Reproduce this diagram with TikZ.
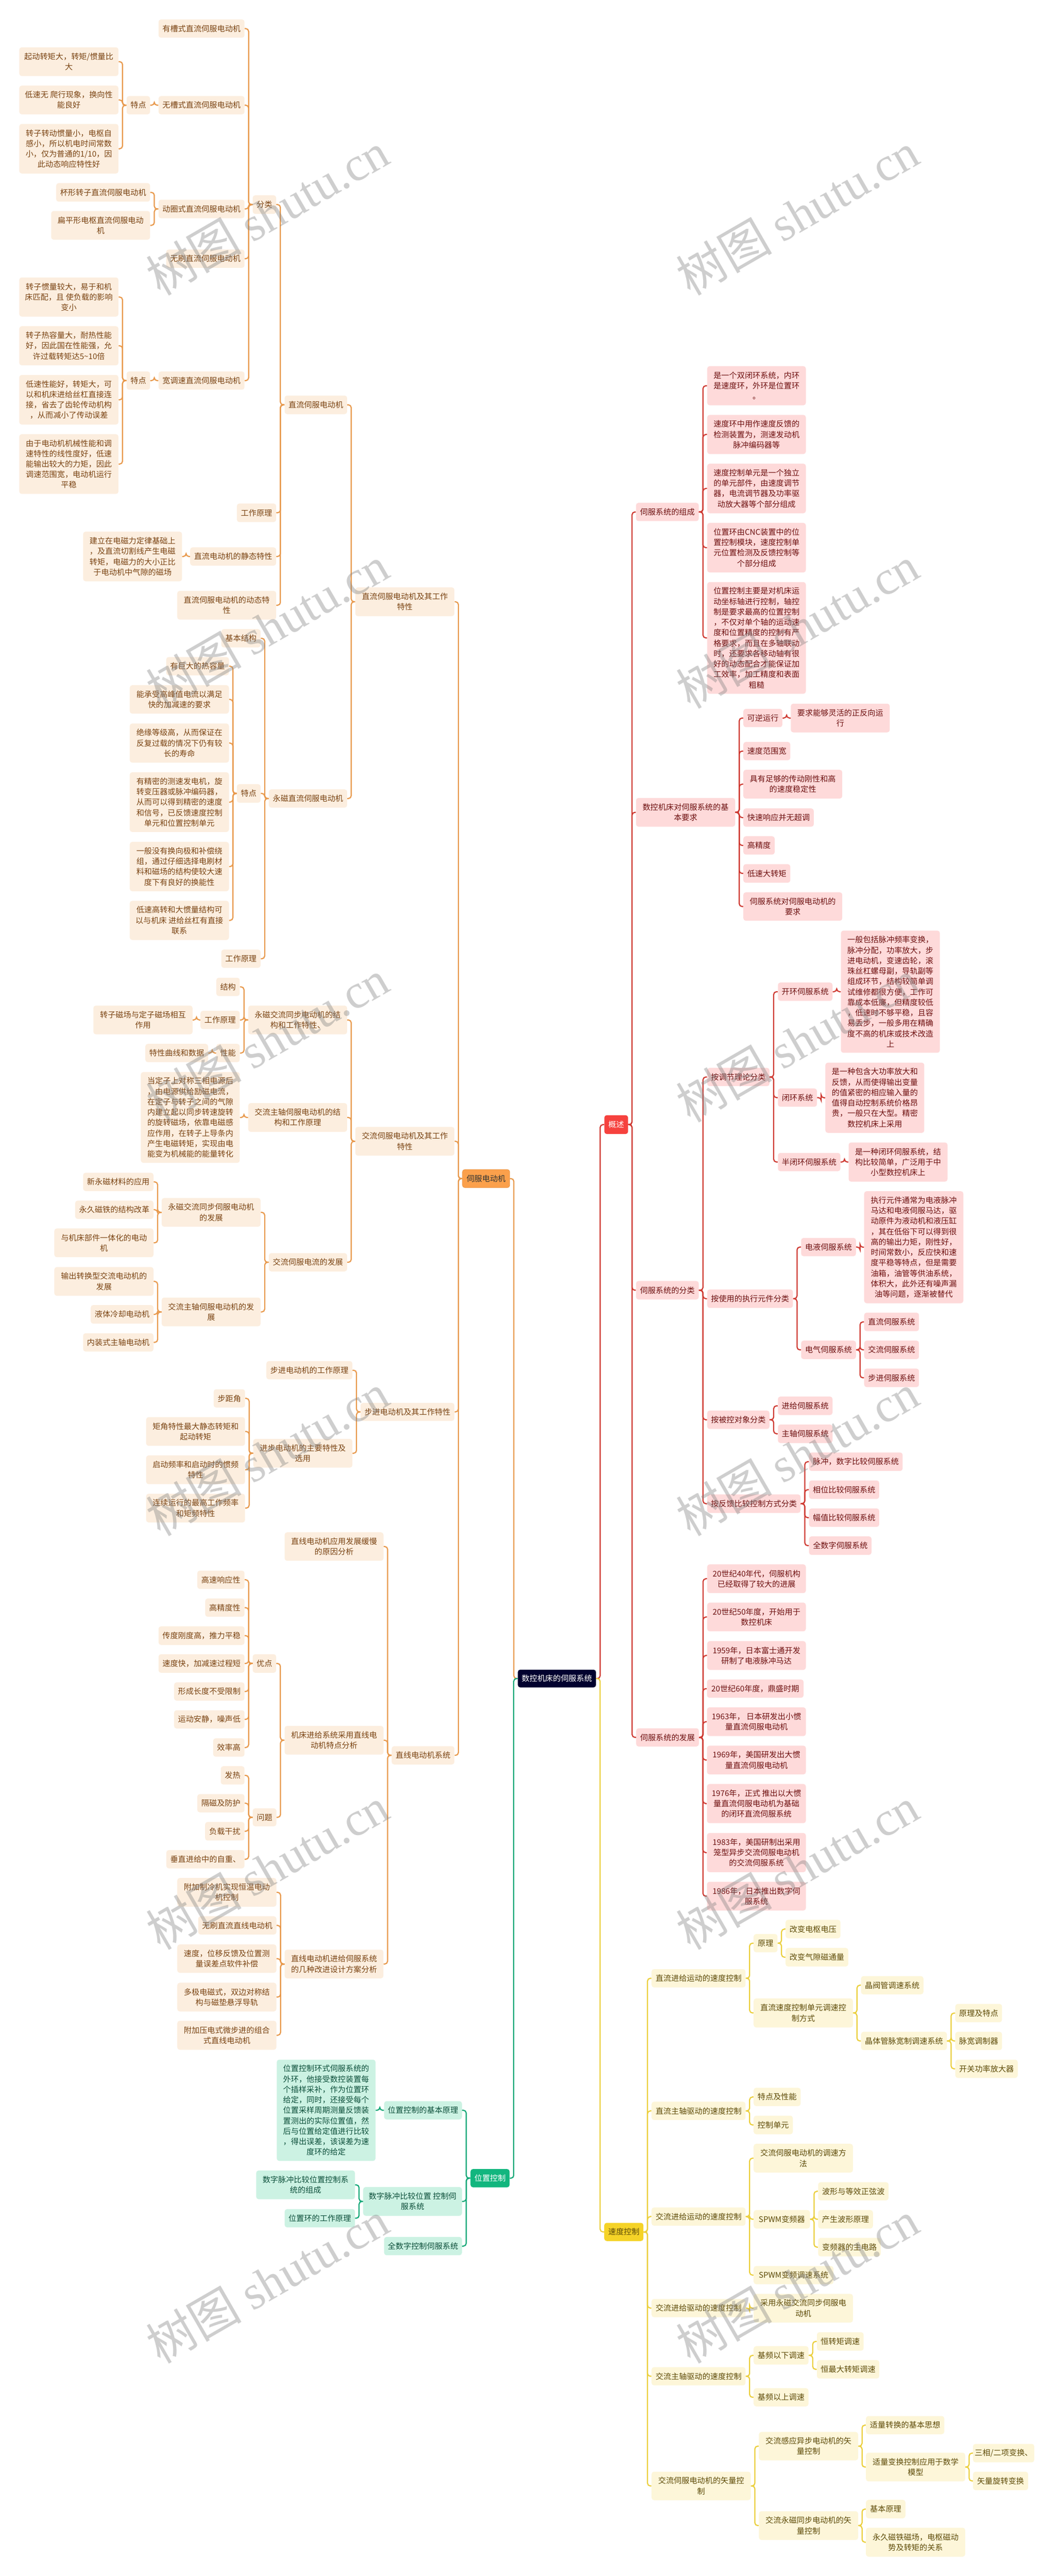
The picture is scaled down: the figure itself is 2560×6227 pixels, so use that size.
\documentclass[tikz,border=0pt]{standalone}
\usepackage{fontspec}
\setmainfont{Noto Sans CJK SC}
\newfontfamily\wmlatin{Liberation Serif}
\usetikzlibrary{calc}
\definecolor{oF}{HTML}{FCEEDF}\definecolor{oT}{HTML}{7A4312}\definecolor{oW}{HTML}{E8994C}\definecolor{oL}{HTML}{FBA04B}
\definecolor{rF}{HTML}{FEDADA}\definecolor{rT}{HTML}{6E1010}\definecolor{rW}{HTML}{CF3A32}\definecolor{rL}{HTML}{F6423E}
\definecolor{yF}{HTML}{FDF6D9}\definecolor{yT}{HTML}{5E4B08}\definecolor{yW}{HTML}{EBCF3C}\definecolor{yL}{HTML}{F5D327}
\definecolor{gF}{HTML}{CCF2E3}\definecolor{gT}{HTML}{0C4F3A}\definecolor{gW}{HTML}{12A877}\definecolor{gL}{HTML}{12B67E}
\definecolor{nv}{HTML}{02022F}
\tikzset{
 boxbase/.style={rectangle,rounded corners=3pt,inner sep=0pt,align=center,font=\fontsize{9.45}{12.6}\selectfont},
 wirebase/.style={line width=1.4pt,rounded corners=3.4pt},
 obox/.style={boxbase,fill=oF,text=oT}, rbox/.style={boxbase,fill=rF,text=rT},
 ybox/.style={boxbase,fill=yF,text=yT}, gbox/.style={boxbase,fill=gF,text=gT},
 lead/.style={boxbase,text=white},
 wm/.style={text=gray,opacity=.38,rotate=30,font=\fontsize{58}{58}\selectfont}
}
\newcommand\zset[4]{\gdef\zx{#1}\gdef\zy{#2}\gdef\zsx{#3}\gdef\zsy{#4}}
\newcommand\nd[6]{%
 \pgfmathsetmacro\nx{\zx+(#2+#4)/2/\zsx}%
 \pgfmathsetmacro\ny{\zy+(#3+#5)/2/\zsy}%
 \pgfmathsetmacro\nw{(#4-(#2))/\zsx*0.5}%
 \pgfmathsetmacro\nh{(#5-(#3))/\zsy*0.5}%
 \node[box,minimum width=\nw pt,minimum height=\nh pt] (#1) at (\nx,\ny) {#6};}
\newcommand\connL[2]{\foreach \cc in {#2}{\draw[wire] let \p1=(\cc.east),\p2=(#1.west),\n1={0.5*(\x1+\x2)} in (\p1) -- (\n1,\y1) -- (\n1,\y2) -- (\p2);}}
\newcommand\connR[2]{\foreach \cc in {#2}{\draw[wire] let \p1=(#1.east),\p2=(\cc.west),\n1={0.5*(\x1+\x2)} in (\p1) -- (\n1,\y1) -- (\n1,\y2) -- (\p2);}}
\begin{document}
\begin{tikzpicture}[x=0.5pt,y=-0.5pt]
\fill[white] (0,0) rectangle (2560,6227);
\useasboundingbox (0,0) rectangle (2560,6227);

% ---------- orange tree
\begin{scope}[box/.style={obox},wire/.style={wirebase,draw=oW}]
\zset{0}{0}{1.568}{1.4255}
\nd{a1}{601}{67}{927}{130}{有槽式直流伺服电动机}
\nd{a2}{601}{331}{927}{394}{无槽式直流伺服电动机}
\nd{a2t}{480}{331}{569}{394}{特点}
\nd{a2a}{73}{163}{449}{262}{起动转矩大，转矩/惯量比\\大}
\nd{a2b}{73}{295}{449}{394}{低速无 爬行现象，换向性\\能良好}
\nd{a2c}{73}{427}{449}{598}{转子转动惯量小，电枢自\\感小，所以机电时间常数\\小，仅为普通的1/10，因\\此动态响应特性好}
\nd{a3}{601}{688}{927}{752}{动圈式直流伺服电动机}
\nd{a3a}{213}{631}{569}{695}{杯形转子直流伺服电动机}
\nd{a3b}{194}{727}{569}{826}{扁平形电枢直流伺服电动\\机}
\nd{fenlei}{958}{673}{1047}{737}{分类}
\nd{a4}{630}{860}{927}{923}{无刷直流伺服电动机}
\nd{a5}{601}{1280}{927}{1343}{宽调速直流伺服电动机}
\nd{a5t}{480}{1280}{569}{1343}{特点}
\nd{a5a}{73}{956}{449}{1091}{转子惯量较大，易于和机\\床匹配，且 使负载的影响\\变小}
\nd{a5b}{73}{1124}{449}{1259}{转子热容量大，耐热性能\\好，因此国在性能强，允\\许过载转矩达5\textasciitilde10倍}
\nd{a5c}{73}{1292}{449}{1463}{低速性能好，转矩大，可\\以和机床进给丝杠直接连\\接，省去了齿轮传动机构\\，从而减小了传动误差}
\nd{dcm}{1079}{1363}{1316}{1427}{直流伺服电动机}
\zset{0}{1100}{1.568}{1.4255}
\nd{a5d}{73}{-72}{449}{134}{由于电动机机械性能和调\\速特性的线性度好，低速\\能输出较大的力矩，因此\\调速范围宽，电动机运行\\平稳}
\nd{dcw}{898}{167}{1047}{231}{工作原理}
\nd{dcj}{721}{318}{1047}{381}{直流电动机的静态特性}
\nd{dcja}{315}{264}{690}{435}{建立在电磁力定律基础上\\，及直流切割线产生电磁\\转矩，电磁力的大小正比\\于电动机中气隙的磁场}
\nd{dcd}{672}{468}{1047}{567}{直流伺服电动机的动态特\\性}
\nd{dcs}{1347}{456}{1722.7}{555}{直流伺服电动机及其工作\\特性}
\nd{pmj}{839}{600}{988}{663}{基本结构}
\nd{pma}{630}{696}{868}{759}{有巨大的热容量}
\nd{pmb}{492}{793}{868}{891}{能承受高峰值电流以满足\\快的加减速的要求}
\nd{pmc}{492}{925}{868}{1060}{绝缘等级高，从而保证在\\反复过载的情况下仍有较\\长的寿命}
\nd{pmd}{492}{1093}{868}{1299}{有精密的测速发电机，旋\\转变压器或脉冲编码器，\\从而可以得到精密的速度\\和信号，已反馈速度控制\\单元和位置控制单元}
\nd{pme}{492}{1333}{868}{1503}{一般没有换向极和补偿绕\\组，通过仔细选择电刷材\\料和磁场的结构使较大速\\度下有良好的换能性}
\nd{pmf}{492}{1536}{868}{1671}{低速高转和大惯量结构可\\以与机床 进给丝杠有直接\\联系}
\nd{pmt}{898}{1134}{988}{1198}{特点}
\nd{pmdc}{1019}{1152}{1316}{1215}{永磁直流伺服电动机}
\zset{0}{2200}{1.568}{1.4255}
\nd{pmw}{839}{136}{988}{199}{工作原理}
\nd{ac1a}{820}{233}{909}{296}{结构}
\nd{ac1b}{760}{347}{909}{410}{工作原理}
\nd{ac1bx}{354}{329}{730}{428}{转子磁场与定子磁场相互\\作用}
\nd{ac1c}{820}{461}{909}{524}{性能}
\nd{ac1cx}{551}{461}{789}{524}{特性曲线和数据}
\nd{ac1}{941}{329}{1316}{428}{永磁交流同步电动机的结\\构和工作特性、}
\nd{ac2x}{534}{558}{909}{871}{当定子上对称三相电源后\\，由电源供给励磁电流，\\在定子与转子之间的气隙\\内建立起以同步转速旋转\\的旋转磁场，依靠电磁感\\应作用，在转子上导条内\\产生电磁转矩，实现由电\\能变为机械能的能量转化}
\nd{ac2}{941}{665}{1316}{764}{交流主轴伺服电动机的结\\构和工作原理}
\nd{acs}{1347}{747}{1722.7}{846}{交流伺服电动机及其工作\\特性}
\nd{dv1a}{315}{905}{582}{968}{新永磁材料的应用}
\nd{dv1b}{285}{1001}{582}{1064}{永久磁铁的结构改革}
\nd{dv1c}{206}{1097}{582}{1196}{与机床部件一体化的电动\\机}
\nd{dv1}{613}{992}{988}{1091}{永磁交流同步伺服电动机\\的发展}
\nd{ac3}{1019}{1182}{1316}{1245}{交流伺服电流的发展}
\nd{dv2a}{206}{1230}{582}{1329}{输出转换型交流电动机的\\发展}
\nd{dv2b}{344}{1361}{582}{1425}{液体冷却电动机}
\nd{dv2c}{315}{1458}{582}{1521}{内装式主轴电动机}
\nd{dv2}{613}{1335}{988}{1434}{交流主轴伺服电动机的发\\展}
\zset{0}{3300}{1.568}{1.4255}
\nd{st1}{1010}{-14}{1336}{49}{步进电动机的工作原理}
\nd{sts}{1367}{130}{1722.7}{192}{步进电动机及其工作特性}
\nd{st2}{960}{254}{1336}{353}{进步电动机的主要特性及\\选用}
\nd{st2a}{810}{83}{929}{146}{步距角}
\nd{st2b}{554}{179}{929}{278}{矩角特性最大静态转矩和\\起动转矩}
\nd{st2c}{554}{311}{929}{410}{启动频率和启动时的惯频\\特性}
\nd{st2d}{554}{443}{929}{542}{连续运行的最高工作频率\\和矩频特性}
\nd{li1}{1079}{576}{1454}{674}{直线电动机应用发展缓慢\\的原因分析}
\nd{ua}{748}{708}{927}{771}{高速响应性}
\nd{ub}{778}{804}{927}{867}{高精度性}
\nd{uc}{601}{900}{927}{964}{传度刚度高，推力平稳}
\nd{ud}{601}{996}{927}{1060}{速度快，加减速过程短}
\nd{ue}{660}{1093}{927}{1156}{形成长度不受限制}
\nd{uf}{660}{1189}{927}{1252}{运动安静，噪声低}
\nd{ug}{808}{1286}{927}{1349}{效率高}
\nd{youd}{958}{996}{1047}{1060}{优点}
\nd{li2}{1079}{1243}{1454}{1342}{机床进给系统采用直线电\\动机特点分析}
\nd{lis}{1485}{1313}{1722.7}{1376}{直线电动机系统}
\nd{qa}{837}{1382}{927}{1445}{发热}
\nd{qb}{748}{1478}{927}{1541}{隔磁及防护}
\zset{0}{4400}{1.206}{1.4255}
\nd{wenti}{737}{-41}{806}{21}{问题}
\nd{qc}{598}{6}{713}{70}{负载干扰}
\nd{qd}{485}{103}{713}{166}{垂直进给中的自重、}
\nd{li3a}{517}{199}{806}{298}{附加制冷机实现恒温电动\\机控制}
\nd{li3b}{578}{331}{806}{394}{无刷直流直线电动机}
\nd{li3c}{517}{428}{806}{526}{速度，位移反馈及位置测\\量误差点软件补偿}
\nd{li3d}{517}{560}{806}{659}{多极电磁式，双边对称结\\构与磁垫悬浮导轨}
\nd{li3e}{517}{691}{806}{791}{附加压电式微步进的组合\\式直线电动机}
\nd{li3}{830}{446}{1118}{545}{直线电动机进给伺服系统\\的几种改进设计方案分析}
\zset{0}{0}{1}{1}
\begin{scope}[box/.style={lead,fill=oL,draw=oW,line width=.5pt,text=black!80}]
\nd{serv}{1118}{2827}{1232.6}{2871}{伺服电动机}
\end{scope}
\connL{a2t}{a2a,a2b,a2c}
\connL{a2}{a2t}
\connL{a3}{a3a,a3b}
\connL{a5t}{a5a,a5b,a5c,a5d}
\connL{a5}{a5t}
\connL{fenlei}{a1,a2,a3,a4,a5}
\connL{dcm}{fenlei,dcw,dcj,dcd}
\connL{dcj}{dcja}
\connL{pmt}{pma,pmb,pmc,pmd,pme,pmf}
\connL{pmdc}{pmj,pmt,pmw}
\connL{dcs}{dcm,pmdc}
\connL{ac1b}{ac1bx}
\connL{ac1c}{ac1cx}
\connL{ac1}{ac1a,ac1b,ac1c}
\connL{ac2}{ac2x}
\connL{dv1}{dv1a,dv1b,dv1c}
\connL{dv2}{dv2a,dv2b,dv2c}
\connL{ac3}{dv1,dv2}
\connL{acs}{ac1,ac2,ac3}
\connL{st2}{st2a,st2b,st2c,st2d}
\connL{sts}{st1,st2}
\connL{youd}{ua,ub,uc,ud,ue,uf,ug}
\connL{wenti}{qa,qb,qc,qd}
\connL{li2}{youd,wenti}
\connL{li3}{li3a,li3b,li3c,li3d,li3e}
\connL{lis}{li1,li2,li3}
\connL{serv}{dcs,sts,acs,lis}
\end{scope}

% ---------- green tree
\begin{scope}[box/.style={gbox},wire/.style={wirebase,draw=gW}]
\zset{0}{4400}{1.206}{1.4255}
\nd{po1x}{807}{825}{1095}{1174}{位置控制环式伺服系统的\\外环，他接受数控装置每\\个插样采补，作为位置环\\给定，同时，还接受每个\\位置采样周期测量反馈装\\置测出的实际位置值，然\\后与位置给定值进行比较\\，得出误差，该误差为速\\度环的给定}
\nd{po1}{1120}{968}{1347}{1031}{位置控制的基本原理}
\nd{po2a}{747}{1207}{1035}{1306}{数字脉冲比较位置控制系\\统的组成}
\nd{po2b}{830}{1340}{1035}{1403}{位置环的工作原理}
\nd{po2}{1059}{1264}{1347}{1363}{数字脉冲比较位置 控制伺\\服系统}
\nd{po3}{1120}{1436}{1347}{1499}{全数字控制伺服系统}
\begin{scope}[box/.style={lead,fill=gL}]
\nd{posc}{1372}{1202}{1486}{1265}{位置控制}
\end{scope}
\connL{po1}{po1x}
\connL{po2}{po2a,po2b}
\connL{posc}{po1,po2,po3}
\end{scope}

% ---------- red tree
\begin{scope}[box/.style={rbox},wire/.style={wirebase,draw=rW}]
\zset{1400}{850}{1.568}{1.4255}
\nd{c1}{216}{521}{454}{584}{伺服系统的组成}
\nd{c1a}{486}{50}{860}{185}{是一个双闭环系统，内环\\是速度环，外环是位置环\\。}
\nd{c1b}{486}{218}{860}{353}{速度环中用作速度反馈的\\检测装置为，测速发动机\\脉冲编码器等}
\nd{c1c}{486}{386}{860}{557}{速度控制单元是一个独立\\的单元部件，由速度调节\\器，电流调节器及功率驱\\动放大器等个部分组成}
\nd{c1d}{486}{590}{860}{761}{位置环由CNC装置中的位\\置控制模块，速度控制单\\元位置检测及反馈控制等\\个部分组成}
\nd{c1e}{486}{794}{860}{1179}{位置控制主要是对机床运\\动坐标轴进行控制，轴控\\制是要求最高的位置控制\\，不仅对单个轴的运动速\\度和位置精度的控制有严\\格要求，而且在多轴联动\\时，还要求各移动轴有很\\好的动态配合才能保证加\\工效率，加工精度和表面\\粗糙}
\nd{c2a}{623}{1231}{771}{1294}{可逆运行}
\nd{c2ax}{803}{1213}{1178}{1312}{要求能够灵活的正反向运\\行}
\nd{c2b}{623}{1345}{801}{1408}{速度范围宽}
\nd{c2c}{623}{1441}{998}{1540}{具有足够的传动刚性和高\\的速度稳定性}
\nd{c2}{216}{1538}{592}{1637}{数控机床对伺服系统的基\\本要求}
\zset{1400}{1950}{1.568}{1.4255}
\nd{c2d}{623}{6}{890}{69}{快速响应并无超调}
\nd{c2e}{623}{102}{742}{165}{高精度}
\nd{c2f}{623}{198}{801}{262}{低速大转矩}
\nd{c2g}{623}{295}{998}{393}{伺服系统对伺服电动机的\\要求}
\nd{k1a}{754}{606}{961}{669}{开环伺服系统}
\nd{k1ax}{993}{427}{1368}{848}{一般包括脉冲频率变换，\\脉冲分配，功率放大，步\\进电动机，变速齿轮，滚\\珠丝杠螺母副，导轨副等\\组成环节，结构较简单调\\试维修都很方便，工作可\\靠成本低廉，但精度较低\\，低速时不够平稳，且容\\易丢步，一般多用在精确\\度不高的机床或技术改造\\上}
\nd{k1b}{754}{971}{902}{1034}{闭环系统}
\nd{k1bx}{934}{882}{1309}{1124}{是一种包含大功率放大和\\反馈，从而使得输出变量\\的值紧密的相应输入量的\\值得自动控制系统价格昂\\贵，一般只在大型。精密\\数控机床上采用}
\nd{k1c}{754}{1193}{991}{1256}{半闭环伺服系统}
\nd{k1cx}{1022}{1157}{1397}{1292}{是一种闭环伺服系统，结\\构比较简单，广泛用于中\\小型数控机床上}
\nd{k1}{486}{900}{722}{963}{按调节理论分类}
\nd{k2a}{842}{1486}{1050}{1549}{电液伺服系统}
\nd{k2ax}{1081}{1325}{1457}{1711}{执行元件通常为电液脉冲\\马达和电液伺服马达，驱\\动原件为液动机和液压缸\\，其在低俗下可以得到很\\高的输出力矩，刚性好，\\时间常数小，反应快和速\\度平稳等特点，但是需要\\油箱，油管等供油系统，\\体积大，此外还有噪声漏\\油等问题，逐渐被替代}
\begin{scope}[box/.style={lead,fill=rL}]
\nd{over}{96}{1063}{186}{1128}{概述}
\end{scope}
\zset{1400}{3050}{1.568}{1.568}
\nd{c3}{216}{73}{454}{143}{伺服系统的分类}
\nd{k2}{486}{105}{811}{175}{按使用的执行元件分类}
\nd{k2b}{842}{299}{1050}{369}{电气伺服系统}
\nd{k2b1}{1081}{193}{1289}{263}{直流伺服系统}
\nd{k2b2}{1081}{299}{1289}{369}{交流伺服系统}
\nd{k2b3}{1081}{405}{1289}{475}{步进伺服系统}
\nd{k3}{486}{564}{722}{634}{按被控对象分类}
\nd{k3a}{754}{511}{961}{581}{进给伺服系统}
\nd{k3b}{754}{617}{961}{687}{主轴伺服系统}
\nd{k4}{486}{882}{840}{952}{按反馈比较控制方式分类}
\nd{k4a}{872}{723}{1227}{793}{脉冲，数字比较伺服系统}
\nd{k4b}{872}{829}{1138}{899}{相位比较伺服系统}
\nd{k4c}{872}{935}{1138}{1005}{幅值比较伺服系统}
\nd{k4d}{872}{1041}{1109}{1111}{全数字伺服系统}
\nd{h1}{486}{1147}{860}{1256}{20世纪40年代，伺服机构\\已经取得了较大的进展}
\nd{h2}{486}{1292}{860}{1401}{20世纪50年度，开始用于\\数控机床}
\nd{h3}{486}{1438}{860}{1547}{1959年，日本富士通开发\\研制了电液脉冲马达}
\zset{1400}{4050}{1.4255}{1.4255}
\nd{h4}{441}{14}{774}{77}{20世纪60年度，鼎盛时期}
\nd{h5}{441}{110}{782}{209}{1963年， 日本研发出小惯\\量直流伺服电动机}
\nd{h6}{441}{242}{782}{341}{1969年，美国研发出大惯\\量直流伺服电动机}
\nd{h7}{441}{374}{782}{509}{1976年，正式 推出以大惯\\量直流伺服电动机为基础\\的闭环直流伺服系统}
\nd{h8}{441}{543}{782}{678}{1983年，美国研制出采用\\笼型异步交流伺服电动机\\的交流伺服系统}
\nd{h9}{441}{711}{782}{810}{1986年，日本推出数字伺\\服系统}
\nd{c4}{197}{182}{413}{245}{伺服系统的发展}
\connR{c1}{c1a,c1b,c1c,c1d,c1e}
\connR{c2a}{c2ax}
\connR{c2}{c2a,c2b,c2c,c2d,c2e,c2f,c2g}
\connR{k1a}{k1ax}
\connR{k1b}{k1bx}
\connR{k1c}{k1cx}
\connR{k1}{k1a,k1b,k1c}
\connR{k2a}{k2ax}
\connR{k2b}{k2b1,k2b2,k2b3}
\connR{k2}{k2a,k2b}
\connR{k3}{k3a,k3b}
\connR{k4}{k4a,k4b,k4c,k4d}
\connR{c3}{k1,k2,k3,k4}
\connR{c4}{h1,h2,h3,h4,h5,h6,h7,h8,h9}
\connR{over}{c1,c2,c3,c4}
\end{scope}

% ---------- yellow tree
\begin{scope}[box/.style={ybox},wire/.style={wirebase,draw=yW}]
\zset{1400}{4050}{1.4255}{1.4255}
\nd{y1a}{602}{891}{684}{954}{原理}
\nd{y1a1}{712}{842}{901}{906}{改变电枢电压}
\nd{y1a2}{712}{939}{928}{1003}{改变气隙磁通量}
\nd{y1}{250}{1012}{574}{1075}{直流进给运动的速度控制}
\nd{y1b}{602}{1113}{944}{1213}{直流速度控制单元调速控\\制方式}
\nd{y1b1}{972}{1036}{1187}{1099}{晶阀管调速系统}
\nd{y1b2}{972}{1228}{1268}{1291}{晶体管脉宽制调速系统}
\nd{y1c1}{1297}{1132}{1458}{1195}{原理及特点}
\nd{y1c2}{1297}{1228}{1458}{1291}{脉宽调制器}
\nd{y1c3}{1297}{1324}{1512}{1387}{开关功率放大器}
\nd{y2}{250}{1469}{574}{1532}{直流主轴驱动的速度控制}
\nd{y2a}{602}{1421}{764}{1484}{特点及性能}
\nd{y2b}{602}{1517}{737}{1581}{控制单元}
\zset{1400}{5150}{1.4255}{1.456}
\nd{y3}{250}{271}{574}{335}{交流进给运动的速度控制}
\nd{y3a}{602}{47}{944}{148}{交流伺服电动机的调速方\\法}
\nd{y3b}{602}{280}{796}{345}{SPWM变频器}
\nd{y3b1}{824}{182}{1067}{246}{波形与等效正弦波}
\nd{y3b2}{824}{280}{1013}{345}{产生波形原理}
\nd{y3b3}{824}{378}{1040}{443}{变频器的主电路}
\nd{y3c}{602}{477}{877}{541}{SPWM变频调速系统}
\nd{y4}{250}{593}{574}{657}{交流进给驱动的速度控制}
\nd{y4a}{602}{575}{944}{676}{采用永磁交流同步伺服电\\动机}
\nd{y5}{250}{833}{574}{897}{交流主轴驱动的速度控制}
\nd{y5a}{602}{759}{791}{824}{基频以下调速}
\nd{y5a1}{820}{710}{981}{775}{恒转矩调速}
\nd{y5a2}{820}{808}{1035}{873}{恒最大转矩调速}
\nd{y5b}{602}{907}{791}{971}{基频以上调速}
\nd{y6}{250}{1201}{592}{1301}{交流伺服电动机的矢量控\\制}
\nd{y6a}{620}{1061}{962}{1161}{交流感应异步电动机的矢\\量控制}
\nd{y6a1}{989}{1005}{1259}{1069}{适量转换的基本思想}
\nd{y6a2}{989}{1134}{1331}{1235}{适量变换控制应用于数学\\模型}
\nd{y6b1}{1358}{1103}{1569}{1168}{三相/二项变换、}
\nd{y6b2}{1358}{1201}{1548}{1266}{矢量旋转变换}
\nd{y6c}{620}{1340}{962}{1441}{交流永磁同步电动机的矢\\量控制}
\nd{y6c1}{989}{1300}{1125}{1365}{基本原理}
\nd{y6c2}{989}{1398}{1331}{1500}{永久磁铁磁场，电枢磁动\\势及转矩的关系}
\begin{scope}[box/.style={lead,fill=yL,text=yT}]
\nd{speed}{87}{325}{222}{389}{速度控制}
\end{scope}
\connR{y1a}{y1a1,y1a2}
\connR{y1b2}{y1c1,y1c2,y1c3}
\connR{y1b}{y1b1,y1b2}
\connR{y1}{y1a,y1b}
\connR{y2}{y2a,y2b}
\connR{y3b}{y3b1,y3b2,y3b3}
\connR{y3}{y3a,y3b,y3c}
\connR{y4}{y4a}
\connR{y5a}{y5a1,y5a2}
\connR{y5}{y5a,y5b}
\connR{y6a2}{y6b1,y6b2}
\connR{y6a}{y6a1,y6a2}
\connR{y6c}{y6c1,y6c2}
\connR{y6}{y6a,y6c}
\connR{speed}{y1,y2,y3,y4,y5,y6}
\end{scope}

% ---------- root
\zset{0}{0}{1}{1}
\begin{scope}[box/.style={lead,fill=nv}]
\nd{root}{1252}{4036}{1441}{4079}{数控机床的伺服系统}
\end{scope}
\begin{scope}[wire/.style={wirebase,draw=oW}]\connL{root}{serv}\end{scope}
\begin{scope}[wire/.style={wirebase,draw=gW}]\connL{root}{posc}\end{scope}
\begin{scope}[wire/.style={wirebase,draw=rW}]\connR{root}{over}\end{scope}
\begin{scope}[wire/.style={wirebase,draw=yW}]\connR{root}{speed}\end{scope}

% ---------- watermark
\foreach \wy [count=\wi] in {516,1516,2516,3516,4516,5516}{
 \node[wm] (wml\wi) at (646,\wy) {树图 {\wmlatin shutu.cn}};
 \node[wm] (wmr\wi) at (1928,\wy) {树图 {\wmlatin shutu.cn}};
}
\end{tikzpicture}
\end{document}
